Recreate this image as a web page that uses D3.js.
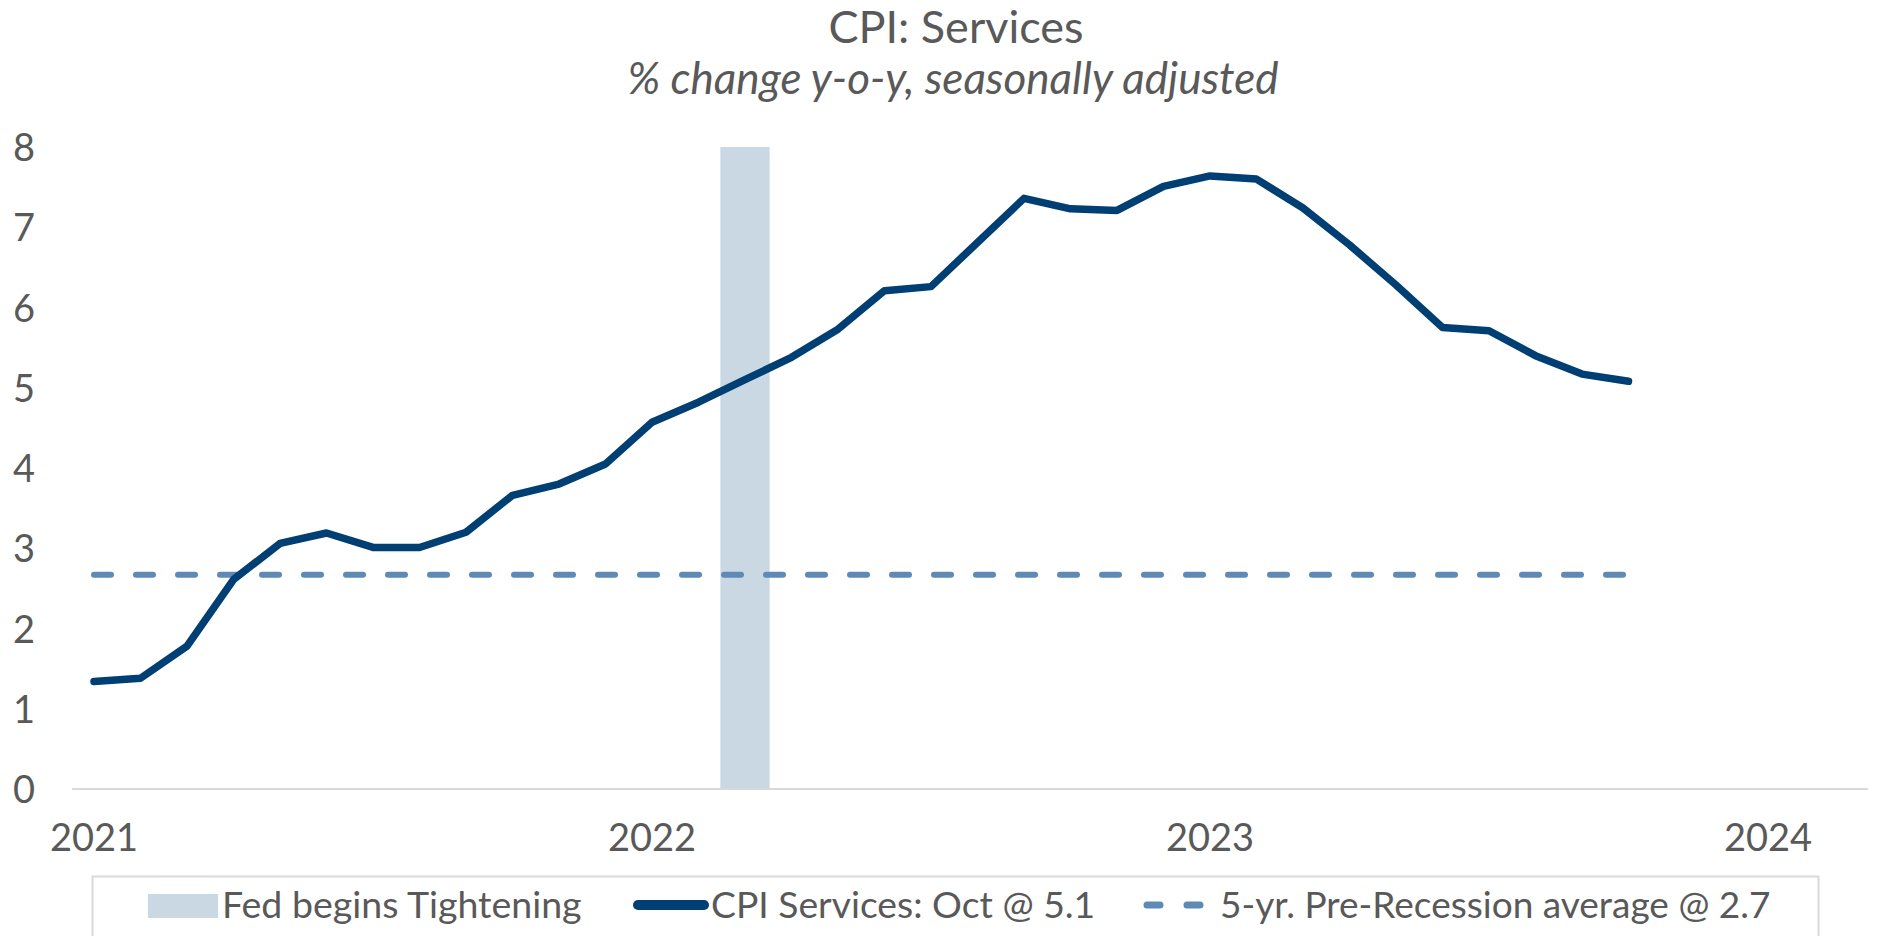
<!DOCTYPE html>
<html>
<head>
<meta charset="utf-8">
<script src="https://cdn.jsdelivr.net/npm/d3@7"></script>
<style>
  html, body { margin: 0; padding: 0; background: #fff; }
  svg text { font-family: Lato, "Open Sans", sans-serif; fill: #595959; }
</style>
</head>
<body>
<svg id="chart" width="1892" height="936"></svg>
<script>
// monthly CPI services, % y-o-y, Jan 2021 .. Oct 2023
var months = d3.range(0, 34);
var cpiServices = [
  1.34, 1.38, 1.78, 2.61, 3.06, 3.19, 3.01, 3.01, 3.20, 3.66, 3.80, 4.05,
  4.57, 4.82, 5.10, 5.38, 5.73, 6.21, 6.26, 6.81, 7.36, 7.23, 7.21, 7.51,
  7.64, 7.60, 7.24, 6.78, 6.28, 5.75, 5.71, 5.40, 5.17, 5.08
];
var preRecessionAvg = 2.67;
var fedStart = 14;          // Mar 2022
var fedTop = 8;
var yearLabels = ['2021', '2022', '2023', '2024'];
var yearIndex = [0, 12, 24, 36];
var yTicks = [0, 1, 2, 3, 4, 5, 6, 7, 8];
var legendLabels = ['Fed begins Tightening', 'CPI Services: Oct @ 5.1', '5-yr. Pre-Recession average @ 2.7'];

var navy = '#003f73', dashBlue = '#5f8ab6', bandFill = '#cad8e4', axisGrey = '#d9d9d9';

var svg = d3.select('#chart');

var x = d3.scaleLinear().domain([0, 36]).range([94, 1768]);
var y = d3.scaleLinear().domain([0, 8]).range([789, 147]);

// titles
svg.append('text')
  .attr('x', 956).attr('y', 43)
  .attr('text-anchor', 'middle')
  .style('font-size', '45px')
  .text('CPI: Services');
svg.append('text')
  .attr('x', 953).attr('y', 94)
  .attr('text-anchor', 'middle')
  .style('font-size', '44px')
  .style('font-style', 'italic')
  .text('% change y-o-y, seasonally adjusted');

// fed band
svg.append('rect')
  .attr('x', x(fedStart - 0.53))
  .attr('width', x(fedStart + 0.53) - x(fedStart - 0.53))
  .attr('y', y(fedTop))
  .attr('height', y(0) - y(fedTop))
  .attr('fill', bandFill);

// axis line
svg.append('line')
  .attr('x1', x(-0.47)).attr('x2', x(38.15))
  .attr('y1', y(0)).attr('y2', y(0))
  .attr('stroke', axisGrey).attr('stroke-width', 2);

// y labels
var yAxis = d3.axisLeft(y).tickValues(yTicks).tickSize(0).tickPadding(0);
var gy = svg.append('g').attr('transform', 'translate(35,0)').call(yAxis);
gy.select('.domain').remove();
gy.selectAll('text')
  .style('font-size', '38px')
  .attr('dy', '0.36em')
  .attr('fill', '#595959');

// x labels
yearLabels.forEach(function(lbl, i) {
  svg.append('text')
    .attr('x', x(yearIndex[i]))
    .attr('y', 851)
    .attr('text-anchor', 'middle')
    .style('font-size', '38px')
    .text(lbl);
});

// average dashed
svg.append('line')
  .attr('x1', x(0)).attr('x2', x(months[months.length - 1]))
  .attr('y1', y(preRecessionAvg)).attr('y2', y(preRecessionAvg))
  .attr('stroke', dashBlue).attr('stroke-width', 6)
  .attr('stroke-linecap', 'round')
  .attr('stroke-dasharray', '17 25');

// cpi line
var line = d3.line()
  .x(function(d, i) { return x(months[i]); })
  .y(function(d) { return y(d); });
svg.append('path')
  .datum(cpiServices)
  .attr('d', line)
  .attr('fill', 'none')
  .attr('stroke', navy)
  .attr('stroke-width', 7.5)
  .attr('stroke-linejoin', 'round')
  .attr('stroke-linecap', 'round');

// legend
var lg = svg.append('g');
lg.append('rect')
  .attr('x', 92.5).attr('y', 876.5)
  .attr('width', 1726).attr('height', 80)
  .attr('fill', 'none')
  .attr('stroke', axisGrey).attr('stroke-width', 2);

lg.append('rect')
  .attr('x', 148).attr('y', 894)
  .attr('width', 70).attr('height', 24)
  .attr('fill', bandFill);
lg.append('text').attr('x', 222).attr('y', 918).style('font-size', '37.5px').text(legendLabels[0]);

lg.append('line')
  .attr('x1', 638).attr('x2', 704).attr('y1', 905).attr('y2', 905)
  .attr('stroke', navy).attr('stroke-width', 10).attr('stroke-linecap', 'round');
lg.append('text').attr('x', 711).attr('y', 918).style('font-size', '37.3px').text(legendLabels[1]);

lg.append('line')
  .attr('x1', 1147).attr('x2', 1204).attr('y1', 905).attr('y2', 905)
  .attr('stroke', dashBlue).attr('stroke-width', 7).attr('stroke-linecap', 'round')
  .attr('stroke-dasharray', '13 27');
lg.append('text').attr('x', 1220).attr('y', 918).style('font-size', '37px').text(legendLabels[2]);
</script>
</body>
</html>
